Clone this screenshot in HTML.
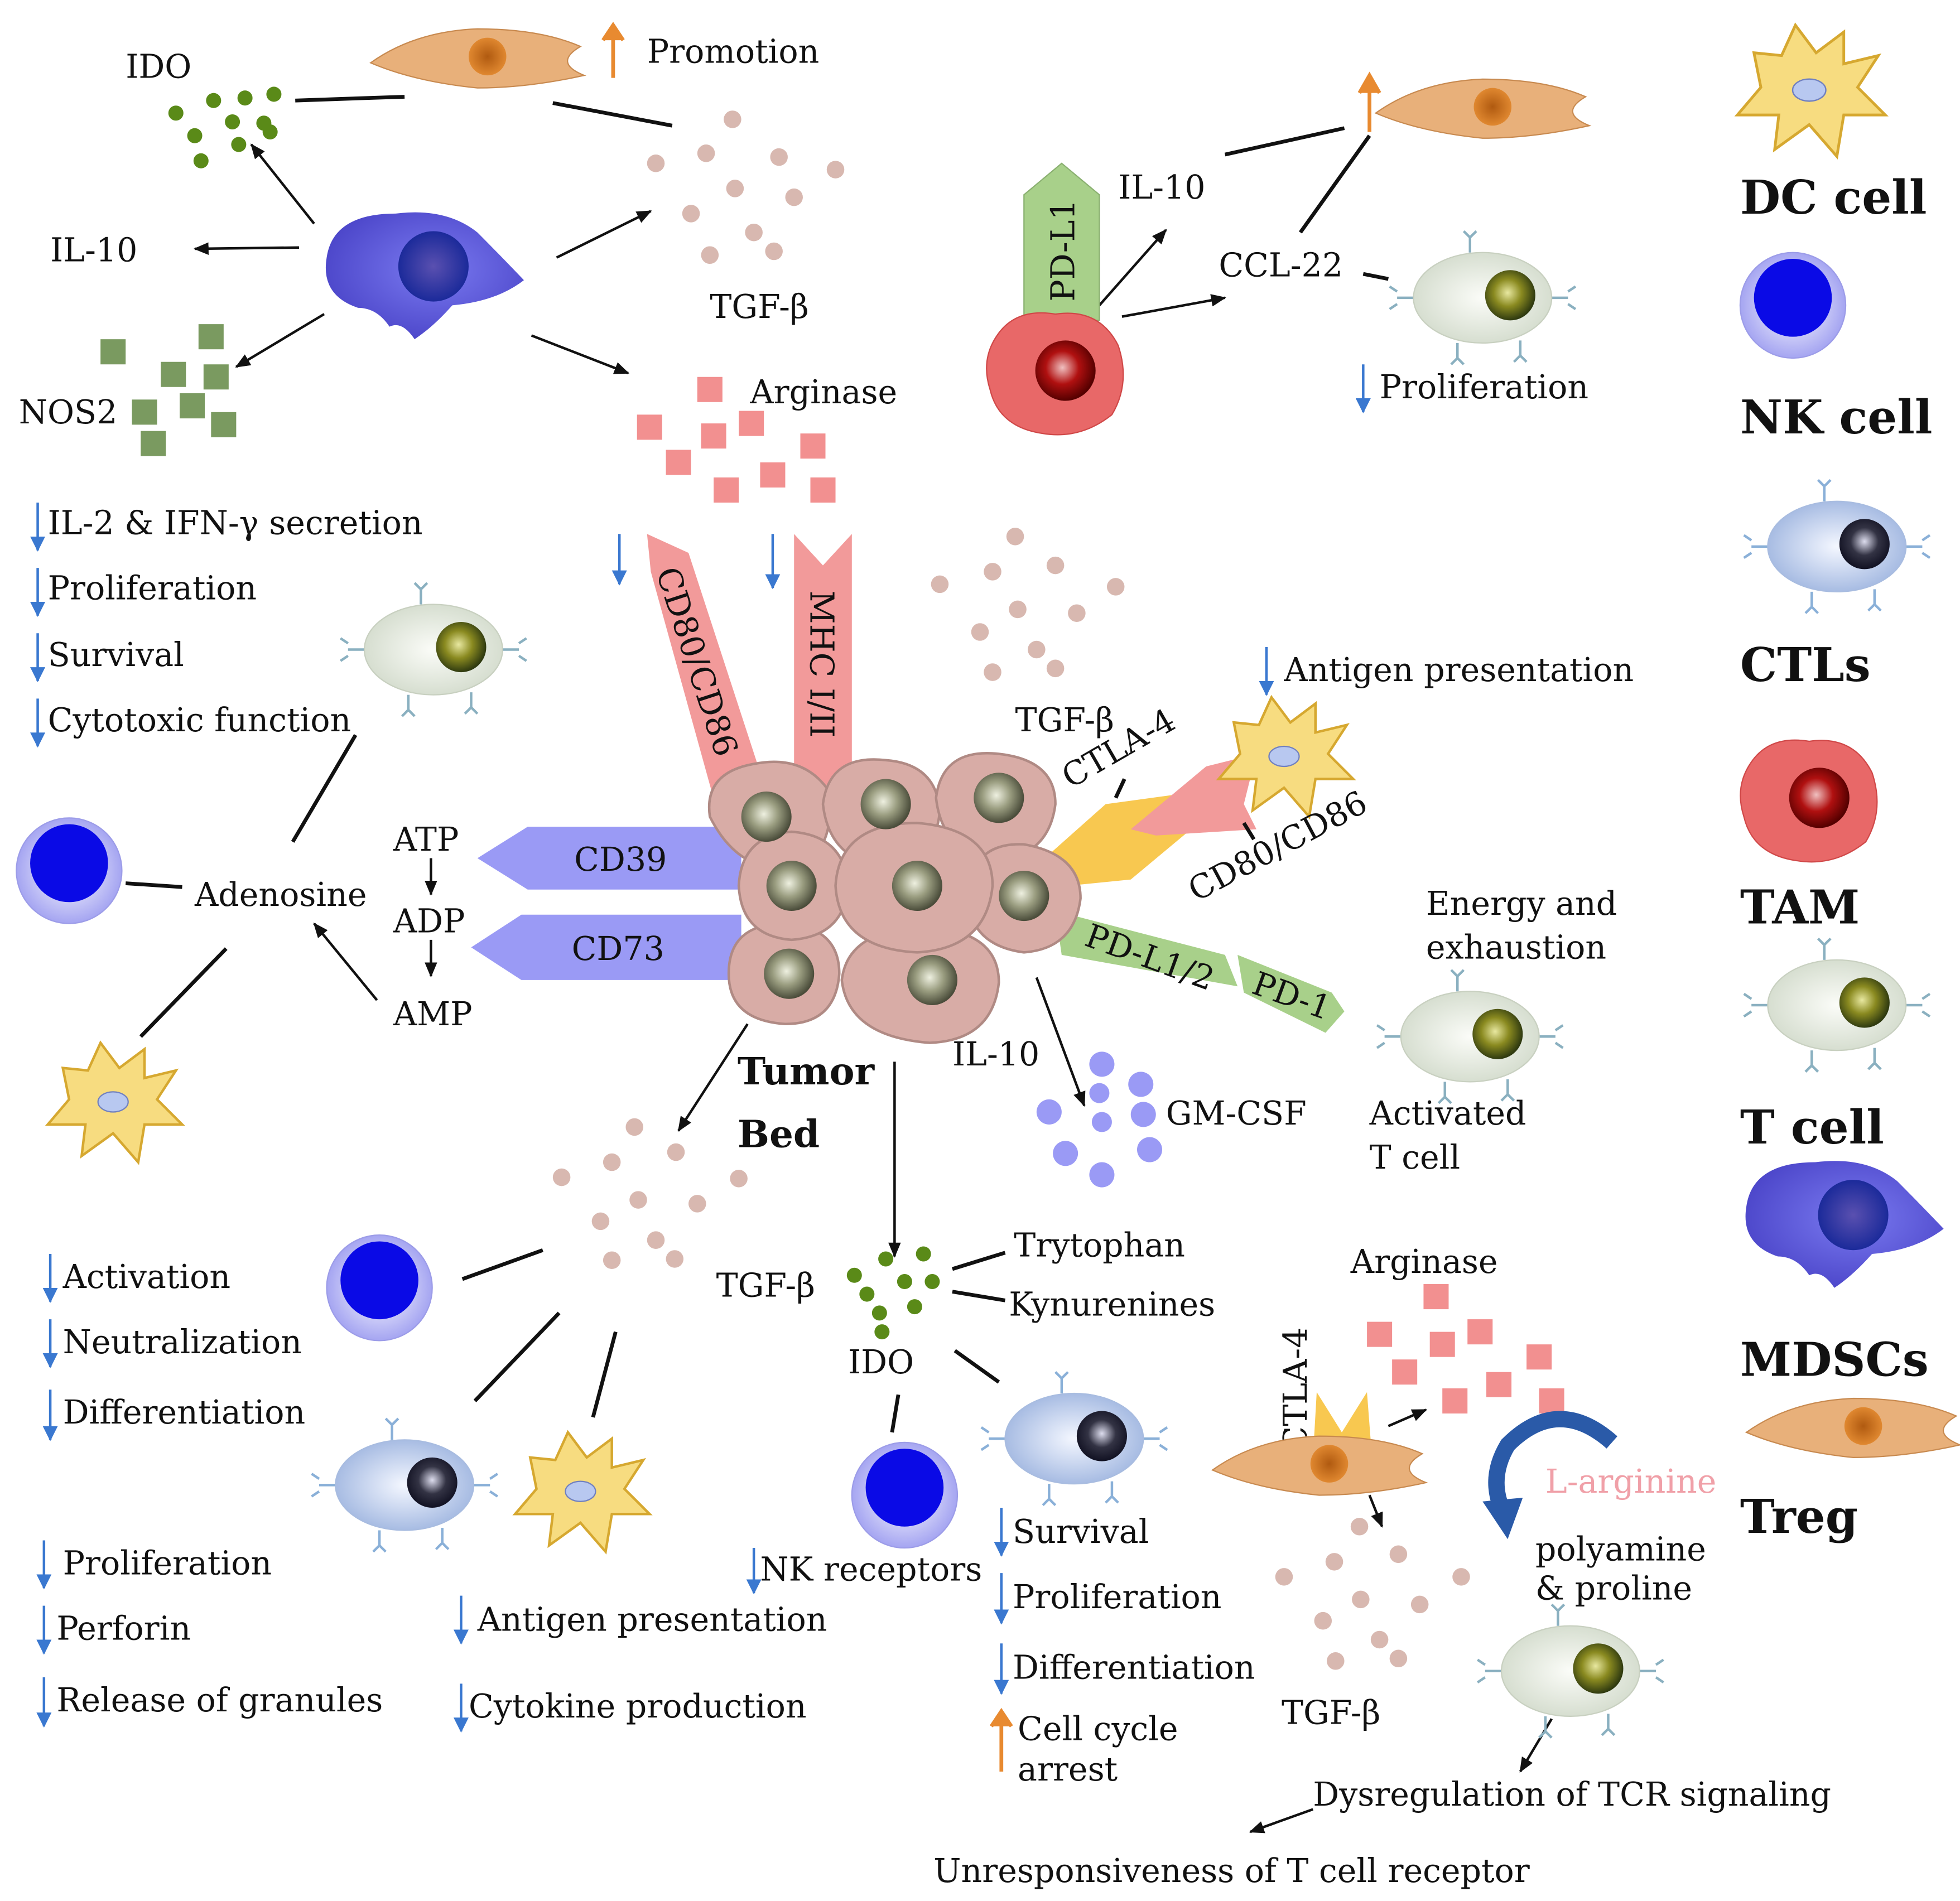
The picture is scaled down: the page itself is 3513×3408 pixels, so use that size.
<!DOCTYPE html>
<html><head><meta charset="utf-8"><style>
html,body{margin:0;padding:0;background:#fff}
svg{display:block}
text{font-family:"DejaVu Serif","Liberation Serif",serif;font-size:26px;fill:#111}
.b{font-weight:bold;font-size:37px}
.tb{font-weight:bold;font-size:30px}
</style></head><body>
<svg width="3513" height="3408" viewBox="0 0 1560 1513" preserveAspectRatio="none" xmlns="http://www.w3.org/2000/svg">
<defs>
<radialGradient id="nucT" cx="45%" cy="45%" r="55%"><stop offset="0" stop-color="#e8e8a0"/><stop offset="0.5" stop-color="#8a8a20"/><stop offset="1" stop-color="#2f3a10"/></radialGradient>
<radialGradient id="nucC" cx="50%" cy="45%" r="55%"><stop offset="0" stop-color="#dde"/><stop offset="0.5" stop-color="#334"/><stop offset="1" stop-color="#112"/></radialGradient>
<radialGradient id="nucTu" cx="45%" cy="45%" r="55%"><stop offset="0" stop-color="#eef0e0"/><stop offset="0.5" stop-color="#9a9d80"/><stop offset="1" stop-color="#4a4c3a"/></radialGradient>
<radialGradient id="bodT" cx="50%" cy="50%" r="60%"><stop offset="0" stop-color="#fbfcf8"/><stop offset="1" stop-color="#cfd8c8"/></radialGradient>
<radialGradient id="bodC" cx="50%" cy="50%" r="60%"><stop offset="0" stop-color="#f4f7ff"/><stop offset="1" stop-color="#98b0dd"/></radialGradient>
<radialGradient id="bodNK" cx="50%" cy="50%" r="55%"><stop offset="0" stop-color="#fff"/><stop offset="1" stop-color="#9c9cf0"/></radialGradient>
<radialGradient id="bodM" cx="55%" cy="45%" r="60%"><stop offset="0" stop-color="#7a7af0"/><stop offset="1" stop-color="#4a44c8"/></radialGradient>
<radialGradient id="nucM" cx="50%" cy="50%" r="50%"><stop offset="0" stop-color="#5a50b0"/><stop offset="1" stop-color="#1b2a9a"/></radialGradient>
<radialGradient id="nucR" cx="45%" cy="45%" r="55%"><stop offset="0" stop-color="#f0c0c0"/><stop offset="0.5" stop-color="#b01010"/><stop offset="1" stop-color="#500"/></radialGradient>
<radialGradient id="nucO" cx="50%" cy="50%" r="50%"><stop offset="0" stop-color="#b05a10"/><stop offset="1" stop-color="#e08830"/></radialGradient>
<g id="tcell">
 <g stroke="#8ab0c0" stroke-width="2" fill="none"><path d="M-50 0h-18M-68 -5l-6-4M-68 5l-6 4M50 0h18M68 -5l6-4M68 5l6 4M-10 -36v-12M-10 -48l-5-5M-10 -48l5-5M-20 36v12M-20 48l-5 5M-20 48l5 5M30 34v12M30 46l-5 5M30 46l5 5"/></g>
 <ellipse rx="55" ry="36" fill="url(#bodT)" stroke="#c8d0c0"/>
 <circle cx="22" cy="-2" r="20" fill="url(#nucT)"/>
</g>
<g id="ctl">
 <g stroke="#8ab0d8" stroke-width="2" fill="none"><path d="M-50 0h-18M-68 -5l-6-4M-68 5l-6 4M50 0h18M68 -5l6-4M68 5l6 4M-10 -36v-12M-10 -48l-5-5M-10 -48l5-5M-20 36v12M-20 48l-5 5M-20 48l5 5M30 34v12M30 46l-5 5M30 46l5 5"/></g>
 <ellipse rx="55" ry="36" fill="url(#bodC)" stroke="#a8bce0"/>
 <circle cx="22" cy="-2" r="20" fill="url(#nucC)"/>
</g>
<g id="nk"><circle r="42" fill="url(#bodNK)" stroke="#9c9ce8"/><circle cy="-6" r="31" fill="#0a0ae6"/></g>
<g id="dc"><path d="M-40 -30 L-20 -28 L-10 -50 L5 -30 L25 -45 L25 -22 L50 -28 L35 -5 L55 15 L25 15 L20 45 L0 22 L-25 40 L-22 15 L-52 15 L-35 -5 Z" fill="#f7dc80" stroke="#d6a830" stroke-width="2"/><ellipse cx="0" cy="-3" rx="12" ry="8" fill="#b8c8f0" stroke="#7080c0"/></g>
<g id="tam"><path d="M-45 -30 Q-30 -50 0 -45 Q35 -50 50 -20 Q60 10 45 35 Q20 55 -10 50 Q-45 45 -52 15 Q-60 -10 -45 -30Z" fill="#e86868" stroke="#d04848"/><circle cx="8" cy="0" r="24" fill="url(#nucR)"/></g>
<g id="mdsc"><path d="M-75 -10 Q-70 -45 -20 -45 Q20 -50 45 -30 Q60 -15 82 8 Q60 25 25 28 Q10 45 -5 55 Q-15 40 -25 45 Q-35 30 -50 30 Q-80 20 -75 -10Z" fill="url(#bodM)"/><circle cx="10" cy="-3" r="28" fill="url(#nucM)"/></g>
<g id="treg"><path d="M-85 5 Q-50 -20 0 -22 Q50 -22 82 -8 Q60 5 85 15 Q40 25 0 25 Q-50 20 -85 5Z" fill="#e8b07a" stroke="#c88a50"/><circle cx="8" cy="0" r="15" fill="url(#nucO)"/></g>
<marker id="ah" markerWidth="12" markerHeight="10" refX="11" refY="5" orient="auto" markerUnits="userSpaceOnUse"><path d="M0 0L12 5L0 10Z" fill="#111"/></marker>
<marker id="ahb" markerWidth="12" markerHeight="12" refX="6" refY="11" orient="0" markerUnits="userSpaceOnUse"><path d="M0 0L6 12L12 0Z" fill="#3a78d0"/></marker>
</defs>

<!-- black lines -->
<g stroke="#111" stroke-width="3" fill="none">
<path d="M235 80L322 77M440 82L535 100M975 123L1070 102M1035 185L1090 108M1085 218L1105 222M283 585L233 670M100 703L145 706M180 755L112 825M368 1018L432 995M378 1115L445 1045M472 1128L490 1060M758 1010L800 997M758 1028L800 1035M715 1110L710 1140M760 1075L795 1100"/>
</g>
<g stroke="#111" stroke-width="2" fill="none" marker-end="url(#ah)">
<path d="M250 178L200 115"/><path d="M238 197L155 198"/><path d="M258 250L188 292"/><path d="M443 205L518 168"/><path d="M423 267L500 297"/><path d="M875 243L928 183"/><path d="M893 252L975 237"/><path d="M343 683L343 712"/><path d="M343 748L343 777"/><path d="M300 796L250 735"/><path d="M825 778L863 880"/><path d="M595 815L540 900"/><path d="M712 845L712 1000"/><path d="M1105 1135L1135 1122"/><path d="M1090 1190L1100 1215"/><path d="M1235 1368L1210 1410"/><path d="M1045 1440L995 1458"/>
</g>

<!-- top-left MDSC group -->
<g fill="#5a8a18"><circle cx="140" cy="90" r="6"/><circle cx="170" cy="80" r="6"/><circle cx="195" cy="78" r="6"/><circle cx="218" cy="75" r="6"/><circle cx="155" cy="108" r="6"/><circle cx="185" cy="97" r="6"/><circle cx="210" cy="98" r="6"/><circle cx="160" cy="128" r="6"/><circle cx="190" cy="115" r="6"/><circle cx="215" cy="105" r="6"/></g>
<text x="100" y="62">IDO</text>
<use href="#treg" x="380" y="45"/>
<path d="M488 62V28M480 32L488 20L496 32" stroke="#e88a30" stroke-width="3" fill="#e88a30"/>
<text x="515" y="50">Promotion</text>
<g fill="#d8b8b0"><circle cx="583" cy="95" r="7"/><circle cx="522" cy="130" r="7"/><circle cx="562" cy="122" r="7"/><circle cx="620" cy="125" r="7"/><circle cx="665" cy="135" r="7"/><circle cx="585" cy="150" r="7"/><circle cx="632" cy="157" r="7"/><circle cx="550" cy="170" r="7"/><circle cx="600" cy="185" r="7"/><circle cx="565" cy="203" r="7"/><circle cx="616" cy="200" r="7"/></g>
<text x="565" y="253">TGF-β</text>
<use href="#mdsc" x="335" y="215"/>
<text x="40" y="208">IL-10</text>
<g fill="#7a9a60"><rect x="80" y="270" width="20" height="20"/><rect x="158" y="258" width="20" height="20"/><rect x="128" y="288" width="20" height="20"/><rect x="162" y="290" width="20" height="20"/><rect x="105" y="318" width="20" height="20"/><rect x="143" y="313" width="20" height="20"/><rect x="168" y="328" width="20" height="20"/><rect x="112" y="343" width="20" height="20"/></g>
<text x="15" y="337">NOS2</text>
<g fill="#f29090"><rect x="555" y="300" width="20" height="20"/><rect x="507" y="330" width="20" height="20"/><rect x="558" y="337" width="20" height="20"/><rect x="588" y="327" width="20" height="20"/><rect x="637" y="345" width="20" height="20"/><rect x="530" y="358" width="20" height="20"/><rect x="605" y="368" width="20" height="20"/><rect x="568" y="380" width="20" height="20"/><rect x="645" y="380" width="20" height="20"/></g>
<text x="597" y="321">Arginase</text>

<!-- TAM group -->
<polygon points="815,255 815,155 845,130 875,155 875,255" fill="#a8d08a" stroke="#8ab070"/>
<text x="0" y="0" transform="translate(855,240) rotate(-90)">PD-L1</text>
<use href="#tam" x="840" y="295"/>
<text x="890" y="158">IL-10</text>
<text x="970" y="220">CCL-22</text>
<use href="#treg" x="1180" y="85"/>
<path d="M1090 105V70M1082 74L1090 60L1098 74" stroke="#e88a30" stroke-width="3" fill="#e88a30"/>
<use href="#tcell" x="1180" y="237"/>
<g stroke="#3a78d0" stroke-width="2" marker-end="url(#ahb)">
<path d="M1085 290V328"/>
<path d="M30 400V438"/><path d="M30 452V490"/><path d="M30 504V542"/><path d="M30 556V594"/><path d="M493 425V465"/><path d="M615 425V468"/><path d="M1008 515V553"/><path d="M40 998V1036"/><path d="M40 1050V1088"/><path d="M40 1106V1146"/><path d="M35 1226V1264"/><path d="M35 1278V1316"/><path d="M35 1335V1374"/><path d="M367 1270V1308"/><path d="M367 1340V1378"/><path d="M600 1232V1268"/><path d="M797 1200V1238"/><path d="M797 1252V1292"/><path d="M797 1308V1348"/>
</g>
<text x="1098" y="317">Proliferation</text>
<path d="M797 1410V1370M789 1374L797 1362L805 1374" stroke="#e88a30" stroke-width="3" fill="#e88a30"/>

<text x="38" y="425">IL-2 &amp; IFN-γ secretion</text>
<text x="38" y="477">Proliferation</text>
<text x="38" y="530">Survival</text>
<text x="38" y="582">Cytotoxic function</text>
<use href="#tcell" x="345" y="517"/>
<use href="#nk" x="55" y="693"/>
<text x="155" y="721">Adenosine</text>
<use href="#dc" x="90" y="880"/>
<text x="313" y="677">ATP</text>
<text x="313" y="742">ADP</text>
<text x="313" y="816">AMP</text>
<polygon points="590,658 420,658 380,683 420,708 590,708" fill="#9a9af5"/>
<text x="457" y="693">CD39</text>
<polygon points="590,728 415,728 375,754 415,780 590,780" fill="#9a9af5"/>
<text x="455" y="764">CD73</text>

<!-- top red receptors -->
<polygon points="515,425 548,440 610,630 572,650 518,455" fill="#f29a9a"/>
<text transform="translate(522,455) rotate(72)">CD80/CD86</text>
<polygon points="632,425 655,450 678,425 678,625 632,625" fill="#f29a9a"/>
<text transform="translate(645,470) rotate(90)">MHC I/II</text>
<g fill="#d8b8b0"><circle cx="808" cy="427" r="7"/><circle cx="748" cy="465" r="7"/><circle cx="790" cy="455" r="7"/><circle cx="840" cy="450" r="7"/><circle cx="888" cy="467" r="7"/><circle cx="810" cy="485" r="7"/><circle cx="857" cy="488" r="7"/><circle cx="780" cy="503" r="7"/><circle cx="825" cy="517" r="7"/><circle cx="790" cy="535" r="7"/><circle cx="840" cy="532" r="7"/></g>
<text x="808" y="582">TGF-β</text>

<!-- right receptors -->
<polygon points="835,680 880,640 990,625 900,700 850,705" fill="#f8c850"/>
<polygon points="900,660 960,610 1000,600 990,640 1000,660 920,665" fill="#f29a9a"/>
<path d="M888 635L895 620M990 655L998 668" stroke="#111" stroke-width="3"/>
<text transform="translate(852,628) rotate(-30)">CTLA-4</text>
<use href="#dc" x="1022" y="605"/>
<text x="1022" y="542">Antigen presentation</text>
<text transform="translate(952,718) rotate(-28)">CD80/CD86</text>
<polygon points="840,725 975,760 985,785 845,760" fill="#a8d08a"/>
<polygon points="985,760 1060,790 1070,805 1055,822 990,790" fill="#a8d08a"/>
<text transform="translate(862,752) rotate(20)">PD-L1/2</text>
<text transform="translate(995,790) rotate(20)">PD-1</text>
<text x="1135" y="728">Energy and</text>
<text x="1135" y="763">exhaustion</text>
<use href="#tcell" x="1170" y="825"/>
<text x="1090" y="895">Activated</text>
<text x="1090" y="930">T cell</text>

<!-- tumor bed -->
<g stroke="#b08a84" stroke-width="2" fill="#d8aca6">
<path d="M565 650 Q560 615 600 608 Q640 600 660 630 Q665 670 640 690 Q590 700 565 650Z"/>
<path d="M655 640 Q660 600 705 605 Q745 608 748 645 Q745 685 705 690 Q660 685 655 640Z"/>
<path d="M745 635 Q750 595 795 600 Q840 605 840 640 Q835 680 795 685 Q750 680 745 635Z"/>
<path d="M770 710 Q775 670 815 672 Q860 680 860 715 Q855 755 815 758 Q770 752 770 710Z"/>
<path d="M580 775 Q580 735 625 735 Q668 738 668 775 Q665 815 625 815 Q580 812 580 775Z"/>
<path d="M670 780 Q675 738 740 738 Q795 742 795 782 Q790 828 740 830 Q675 825 670 780Z"/>
<path d="M588 705 Q590 665 630 662 Q672 665 675 705 Q672 745 630 748 Q590 745 588 705Z"/>
<path d="M665 705 Q668 655 730 655 Q790 660 790 705 Q785 755 730 758 Q668 755 665 705Z"/>
</g>
<g fill="url(#nucTu)"><circle cx="610" cy="650" r="20"/><circle cx="705" cy="640" r="20"/><circle cx="795" cy="635" r="20"/><circle cx="815" cy="713" r="20"/><circle cx="628" cy="775" r="20"/><circle cx="742" cy="780" r="20"/><circle cx="630" cy="705" r="20"/><circle cx="730" cy="705" r="20"/></g>
<text class="tb" x="587" y="863">Tumor</text>
<text class="tb" x="587" y="913">Bed</text>
<text x="758" y="848">IL-10</text>
<g fill="#9a9af5"><circle cx="877" cy="847" r="10"/><circle cx="835" cy="885" r="10"/><circle cx="875" cy="870" r="8"/><circle cx="908" cy="863" r="10"/><circle cx="910" cy="887" r="10"/><circle cx="848" cy="918" r="10"/><circle cx="877" cy="893" r="8"/><circle cx="915" cy="915" r="10"/><circle cx="877" cy="935" r="10"/></g>
<text x="928" y="895">GM-CSF</text>

<!-- bottom -->
<g fill="#d8b8b0"><circle cx="505" cy="897" r="7"/><circle cx="447" cy="937" r="7"/><circle cx="487" cy="925" r="7"/><circle cx="538" cy="917" r="7"/><circle cx="588" cy="938" r="7"/><circle cx="508" cy="955" r="7"/><circle cx="555" cy="958" r="7"/><circle cx="478" cy="972" r="7"/><circle cx="522" cy="987" r="7"/><circle cx="487" cy="1003" r="7"/><circle cx="537" cy="1002" r="7"/></g>
<g fill="#5a8a18"><circle cx="680" cy="1015" r="6"/><circle cx="705" cy="1002" r="6"/><circle cx="735" cy="998" r="6"/><circle cx="690" cy="1030" r="6"/><circle cx="720" cy="1020" r="6"/><circle cx="742" cy="1020" r="6"/><circle cx="700" cy="1045" r="6"/><circle cx="728" cy="1040" r="6"/><circle cx="702" cy="1060" r="6"/></g>
<text x="570" y="1032">TGF-β</text>
<text x="807" y="1000">Trytophan</text>
<text x="803" y="1047">Kynurenines</text>
<text x="675" y="1093">IDO</text>
<use href="#nk" x="720" y="1190"/>
<use href="#ctl" x="855" y="1145"/>
<text x="50" y="1025">Activation</text>
<text x="50" y="1077">Neutralization</text>
<text x="50" y="1133">Differentiation</text>
<use href="#nk" x="302" y="1025"/>
<use href="#ctl" x="322" y="1182"/>
<use href="#dc" x="462" y="1190"/>
<text x="50" y="1253">Proliferation</text>
<text x="45" y="1305">Perforin</text>
<text x="45" y="1362">Release of granules</text>
<text x="380" y="1298">Antigen presentation</text>
<text x="373" y="1367">Cytokine production</text>
<text x="605" y="1258">NK receptors</text>
<text x="806" y="1228">Survival</text>
<text x="806" y="1280">Proliferation</text>
<text x="806" y="1336">Differentiation</text>
<text x="810" y="1385">Cell cycle</text>
<text x="810" y="1417">arrest</text>

<text x="1075" y="1013">Arginase</text>
<g fill="#f29090"><rect x="1133" y="1022" width="20" height="20"/><rect x="1088" y="1052" width="20" height="20"/><rect x="1138" y="1060" width="20" height="20"/><rect x="1168" y="1050" width="20" height="20"/><rect x="1215" y="1070" width="20" height="20"/><rect x="1108" y="1082" width="20" height="20"/><rect x="1183" y="1092" width="20" height="20"/><rect x="1148" y="1105" width="20" height="20"/><rect x="1225" y="1105" width="20" height="20"/></g>
<path d="M1045 1160 L1048 1108 L1068 1140 L1088 1108 L1092 1160Z" fill="#f8c850"/>
<text transform="translate(1040,1155) rotate(-90)">CTLA-4</text>
<use href="#treg" x="1050" y="1165"/>
<g fill="#d8b8b0"><circle cx="1082" cy="1215" r="7"/><circle cx="1022" cy="1255" r="7"/><circle cx="1062" cy="1243" r="7"/><circle cx="1113" cy="1237" r="7"/><circle cx="1163" cy="1255" r="7"/><circle cx="1083" cy="1273" r="7"/><circle cx="1130" cy="1277" r="7"/><circle cx="1053" cy="1290" r="7"/><circle cx="1098" cy="1305" r="7"/><circle cx="1063" cy="1322" r="7"/><circle cx="1113" cy="1320" r="7"/></g>
<text x="1020" y="1372">TGF-β</text>
<path d="M1283 1148 Q1240 1110 1200 1150 Q1185 1175 1195 1200" stroke="#2a5aa8" stroke-width="13" fill="none"/>
<polygon points="1180,1195 1212,1192 1200,1225" fill="#2a5aa8"/>
<text x="1230" y="1188" style="fill:#f0a0a8">L-arginine</text>
<text x="1222" y="1242">polyamine</text>
<text x="1222" y="1273">&amp; proline</text>
<use href="#tcell" x="1250" y="1330"/>
<text x="1045" y="1437">Dysregulation of TCR signaling</text>
<text x="743" y="1498">Unresponsiveness of T cell receptor</text>

<!-- legend -->
<g transform="translate(1440,75) scale(1.1)"><use href="#dc"/></g>
<text class="b" x="1385" y="170">DC cell</text>
<use href="#nk" x="1427" y="243"/>
<text class="b" x="1385" y="345">NK cell</text>
<use href="#ctl" x="1462" y="435"/>
<text class="b" x="1385" y="542">CTLs</text>
<use href="#tam" x="1440" y="635"/>
<text class="b" x="1385" y="735">TAM</text>
<use href="#tcell" x="1462" y="800"/>
<text class="b" x="1385" y="910">T cell</text>
<use href="#mdsc" x="1465" y="970"/>
<text class="b" x="1385" y="1095">MDSCs</text>
<use href="#treg" x="1475" y="1135"/>
<text class="b" x="1385" y="1220">Treg</text>
</svg>
</body></html>
